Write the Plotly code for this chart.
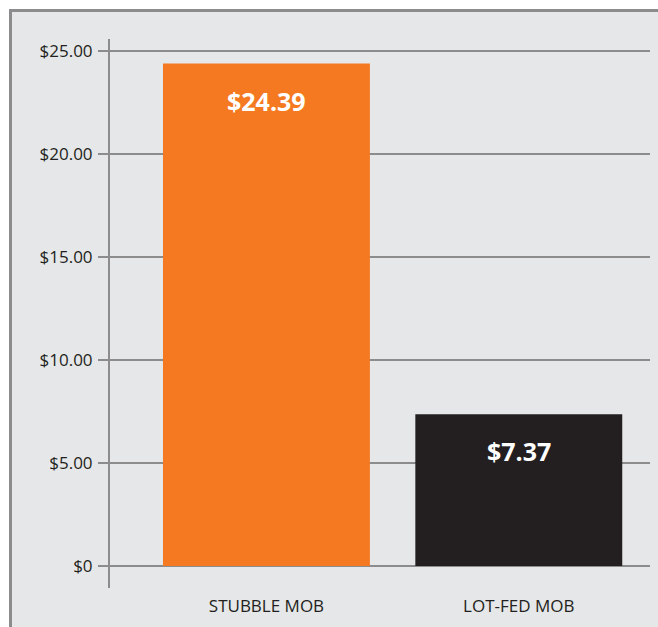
import plotly.graph_objects as go

categories = ["STUBBLE MOB", "LOT-FED MOB"]
values = [24.39, 7.37]
value_labels = ["$24.39", "$7.37"]
bar_colors = ["#F47920", "#231F20"]
tick_vals = [0, 5, 10, 15, 20, 25]
tick_text = ["$0", "$5.00", "$10.00", "$15.00", "$20.00", "$25.00"]

GRID = "#8C8C8C"
BG = "#E6E7E8"
FONT = "Open Sans"

fig = go.Figure()
fig.add_trace(go.Bar(
    x=categories, y=values, marker=dict(color=bar_colors, line=dict(width=0)),
    width=0.82, hoverinfo="skip",
))

for c, v, t in zip(categories, values, value_labels):
    fig.add_annotation(x=c, y=v, text="<b>%s</b>" % t, showarrow=False,
                       yanchor="middle", yshift=-37,
                       font=dict(family=FONT, size=25, color="white"))

# gray panel background with border (top and left visible)
W, H = 658, 627
ml, mr, mt, mb = 110, 8, 39, 39
pw = W - ml - mr
ph = H - mt - mb
def px_to_px(x):
    return (x - ml) / pw
def py_to_py(y):
    return (H - mb - y) / ph
fig.add_shape(type="rect", xref="paper", yref="paper",
              x0=px_to_px(10.5), x1=px_to_px(W + 20),
              y0=py_to_py(H + 20), y1=py_to_py(10.5),
              fillcolor=BG, line=dict(color=GRID, width=3), layer="below")

fig.update_layout(
    width=W, height=H,
    margin=dict(l=ml, r=mr, t=mt, b=mb),
    paper_bgcolor="white", plot_bgcolor="rgba(0,0,0,0)",
    showlegend=False,
    font=dict(family=FONT, color="#231F20"),
    xaxis=dict(range=[-0.62, 1.52], showgrid=False, zeroline=False,
               showline=False, ticks="", tickfont=dict(size=17, color="#231F20"),
               ticklabelstandoff=6, fixedrange=True),
    yaxis=dict(range=[-1.07, 25.58], tickvals=tick_vals, ticktext=tick_text,
               showgrid=True, gridcolor=GRID, gridwidth=2,
               zeroline=True, zerolinecolor=GRID, zerolinewidth=2,
               showline=True, linecolor=GRID, linewidth=2,
               ticks="outside", ticklen=10, tickwidth=2, tickcolor=GRID,
               tickfont=dict(size=17, color="#231F20"), ticklabelstandoff=2,
               fixedrange=True),
    bargap=0.18,
)

fig.write_html("out.html", config={"displayModeBar": False},
               post_script="document.body.style.margin='0';document.body.style.overflow='hidden';")
